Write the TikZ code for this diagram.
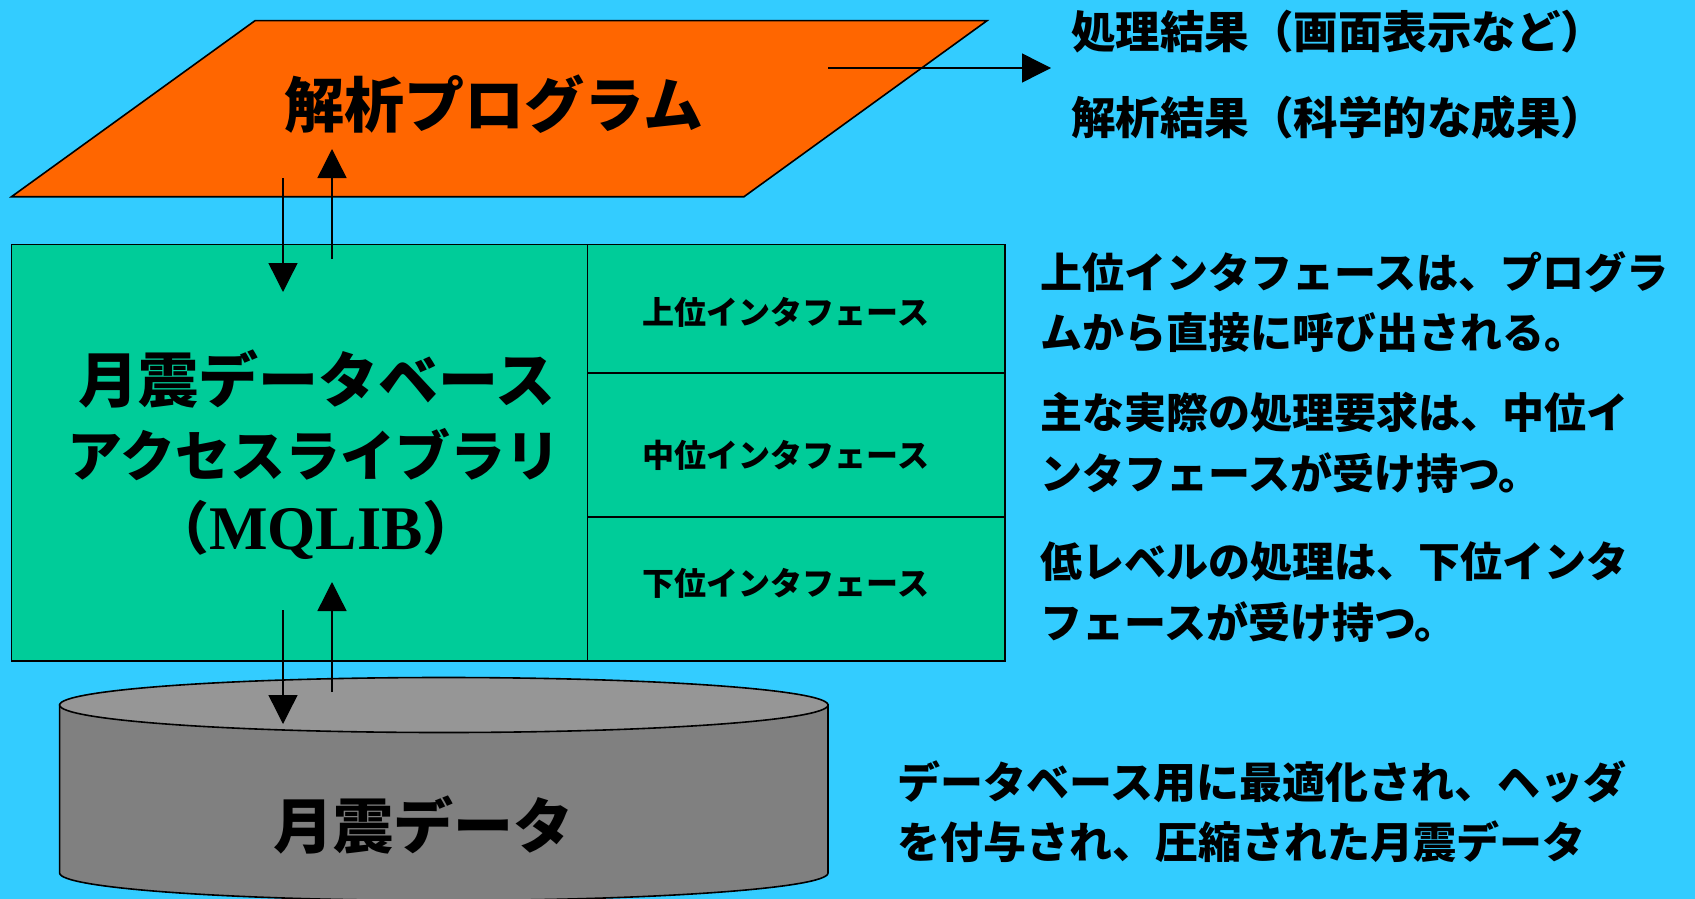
\documentclass[tikz,border=0pt]{standalone}
\usepackage{fontspec}
\setmainfont{Noto Sans CJK JP}
\newfontfamily\tms{Liberation Serif}
\usetikzlibrary{arrows.meta}
\definecolor{bgblue}{HTML}{33CCFF}
\definecolor{progorange}{HTML}{FF6600}
\definecolor{libgreen}{HTML}{00CC99}
\definecolor{dbtop}{HTML}{969696}
\definecolor{dbbody}{HTML}{808080}
\begin{document}
\begin{tikzpicture}[x=1pt,y=-1pt,
  outline/.style={draw=black,line width=1.6pt},
  arr/.style={line width=1.4pt,-{Triangle[length=29pt,width=29pt]}},
  txt/.style={inner sep=0pt,anchor=base},
  bigtxt/.style={txt,font=\fontsize{60}{75}\selectfont\bfseries},
  celltxt/.style={txt,font=\fontsize{32}{38}\selectfont\bfseries},
  sidetxt/.style={inner sep=0pt,anchor=base west,font=\fontsize{42}{61}\selectfont\bfseries},
  cellbox/.style={outline,fill=libgreen,minimum width=417.6pt,inner sep=0pt}
]
\fill[bgblue] (0,0) rectangle (1695,899);
\useasboundingbox (0,0) rectangle (1695,899);

% analysis program (parallelogram)
\draw[outline,fill=progorange] (255,20.7) -- (987,20.7) -- (744,196.7) -- (11.5,196.7) -- cycle;
\node[bigtxt] (prog) at (494,127.5) {解析プログラム};

% library box
\node[outline,fill=libgreen,minimum width=575.8pt,minimum height=416.7pt,inner sep=0pt] (lib) at (299.5,452.65) {};
\node[cellbox,minimum height=128.4pt] (upper) at (796.2,308.5) {};
\node[cellbox,minimum height=144pt] (middle) at (796.2,444.7) {};
\node[cellbox,minimum height=144.3pt] (lower) at (796.2,588.85) {};
\node[bigtxt] (libtxt1) at (317,402) {月震データベース};
\node[txt,font=\fontsize{55}{75}\selectfont\bfseries] (libtxt2) at (314,476) {アクセスライブラリ};
\node[txt,font=\fontsize{57}{75}\selectfont\bfseries] (libtxt3) at (316,549) {（{\tms\bfseries\fontsize{62}{75}\selectfont MQLIB}）};
\node[celltxt] (uppertxt) at (786,324) {上位インタフェース};
\node[celltxt] (middletxt) at (786,467) {中位インタフェース};
\node[celltxt] (lowertxt) at (786,595) {下位インタフェース};

% database cylinder
\draw[outline,fill=dbbody] (59.6,705) -- (59.6,873) arc[start angle=180,end angle=0,x radius=384.2,y radius=27.5] -- (828,705) -- cycle;
\draw[outline,fill=dbtop] (443.8,705) ellipse[x radius=384.2,y radius=27.5];
\node[bigtxt] (db) at (423,848.5) {月震データ};

% connectors
\coordinate (p1) at (283,178); \coordinate (l1) at (283,292);
\coordinate (l2) at (332,259); \coordinate (p2) at (332,149);
\coordinate (l3) at (283,610); \coordinate (d1) at (283,724);
\coordinate (d2) at (332,692); \coordinate (l4) at (332,582);
\coordinate (p3) at (828,68);  \coordinate (r1) at (1051,68);
\draw[arr] (p1) -- (l1);
\draw[arr] (l2) -- (p2);
\draw[arr] (l3) -- (d1);
\draw[arr] (d2) -- (l4);
\draw[arr] (p3) -- (r1);

% side texts
\node[sidetxt,font=\fontsize{44.5}{61}\selectfont\bfseries] (res1) at (1071,49) {処理結果（画面表示など）};
\node[sidetxt,font=\fontsize{44.5}{61}\selectfont\bfseries] (res2) at (1071,134) {解析結果（科学的な成果）};
\node[sidetxt] (note1a) at (1040,288) {上位インタフェースは、プログラ};
\node[sidetxt] (note1b) at (1040,348) {ムから直接に呼び出される。};
\node[sidetxt] (note2a) at (1040,428) {主な実際の処理要求は、中位イ};
\node[sidetxt] (note2b) at (1040,489) {ンタフェースが受け持つ。};
\node[sidetxt] (note3a) at (1040,577) {低レベルの処理は、下位インタ};
\node[sidetxt] (note3b) at (1040,638) {フェースが受け持つ。};
\node[sidetxt,font=\fontsize{43}{61}\selectfont\bfseries] (note4a) at (897,798) {データベース用に最適化され、ヘッダ};
\node[sidetxt,font=\fontsize{43}{61}\selectfont\bfseries] (note4b) at (897,858) {を付与され、圧縮された月震データ};
\end{tikzpicture}
\end{document}
